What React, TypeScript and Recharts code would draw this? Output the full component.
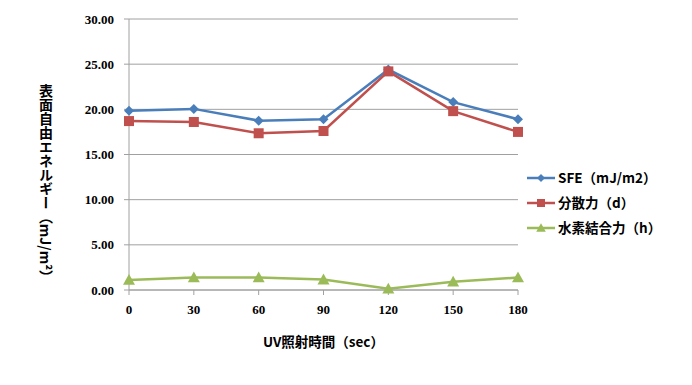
import React from "react";
import { LineChart, Line, XAxis, YAxis, CartesianGrid, Label } from "recharts";

const times = ["0", "30", "60", "90", "120", "150", "180"];
const sfe = [19.85, 20.05, 18.75, 18.9, 24.4, 20.8, 18.9];
const dispersion = [18.7, 18.6, 17.35, 17.6, 24.2, 19.8, 17.5];
const hydrogen = [1.1, 1.38, 1.38, 1.15, 0.15, 0.92, 1.38];
const yTicks = [0, 5, 10, 15, 20, 25, 30];

const seriesList = [
  { key: "sfe", name: "SFE（mJ/m2）", color: "#4a7ebb", shape: "diamond" },
  { key: "d", name: "分散力（d）", color: "#c0504d", shape: "square" },
  { key: "h", name: "水素結合力（h）", color: "#9bbb59", shape: "triangle" },
];

const data = times.map((t, i) => ({
  t,
  sfe: sfe[i],
  d: dispersion[i],
  h: hydrogen[i],
}));

const numFont = "'Liberation Serif', serif";
const jpFont = "'Noto Sans CJK JP', sans-serif";

function Marker({ cx, cy, shape, color, s = 1 }: any) {
  if (cx == null || cy == null) return null;
  if (shape === "diamond") {
    const r = 5 * s;
    return <polygon points={`${cx},${cy - r} ${cx + r},${cy} ${cx},${cy + r} ${cx - r},${cy}`} fill={color} />;
  }
  if (shape === "square") {
    const r = 5 * s;
    return <rect x={cx - r} y={cy - r} width={2 * r} height={2 * r} fill={color} />;
  }
  const r = 6 * s;
  return <polygon points={`${cx},${cy - r} ${cx + r},${cy + r * 0.8} ${cx - r},${cy + r * 0.8}`} fill={color} />;
}

function YTitle() {
  return (
    <text
      x={46}
      y={184}
      textAnchor="middle"
      fontFamily={jpFont}
      fontWeight="bold"
      fontSize={14}
      fill="#000"
      style={{ writingMode: "vertical-rl" as any }}
    >
      表面自由エネルギー（mJ/m²）
    </text>
  );
}

function LegendBox() {
  return (
    <svg style={{ position: "absolute", left: 0, top: 0 }} width={692} height={385}>
      {seriesList.map((s, i) => {
        const y = 178 + i * 25;
        return (
          <g key={s.key}>
            <line x1={527} x2={555} y1={y} y2={y} stroke={s.color} strokeWidth={2.5} />
            <Marker cx={541} cy={y} shape={s.shape} color={s.color} s={0.8} />
            <text x={558} y={y + 5} fontFamily={jpFont} fontWeight="bold" fontSize={13.5} fill="#000">
              {s.name}
            </text>
          </g>
        );
      })}
    </svg>
  );
}

export default function App() {
  return (
    <div style={{ position: "absolute", left: 0, top: 0, width: 692, height: 385, background: "#fff" }}>
      <LineChart width={692} height={385} data={data} margin={{ top: 19, right: 174, bottom: 65, left: 0 }}>
        <CartesianGrid vertical={false} stroke="#a0a0a0" />
        <XAxis
          dataKey="t"
          height={30}
          stroke="#a0a0a0"
          tickSize={5}
          tick={{ fontFamily: numFont, fontWeight: "bold", fontSize: 13, fill: "#000" }}
          tickMargin={10}
        >
          <Label
            value="UV照射時間（sec）"
            position="insideBottom"
            offset={-27}
            style={{ fontFamily: jpFont, fontWeight: "bold", fontSize: 13.5, fill: "#000" }}
          />
        </XAxis>
        <YAxis
          width={129}
          domain={[0, 30]}
          ticks={yTicks}
          interval={0}
          stroke="#a0a0a0"
          tickSize={5}
          tickFormatter={(v: number) => v.toFixed(2)}
          tick={{ fontFamily: numFont, fontWeight: "bold", fontSize: 13, fill: "#000" }}
          tickMargin={10}
          label={<YTitle />}
        />
        {seriesList.map((s) => (
          <Line
            key={s.key}
            dataKey={s.key}
            name={s.name}
            stroke={s.color}
            strokeWidth={2.5}
            isAnimationActive={false}
            dot={(p: any) => <Marker key={p.index} cx={p.cx} cy={p.cy} shape={s.shape} color={s.color} />}
            activeDot={false}
          />
        ))}
      </LineChart>
      <LegendBox />
    </div>
  );
}
